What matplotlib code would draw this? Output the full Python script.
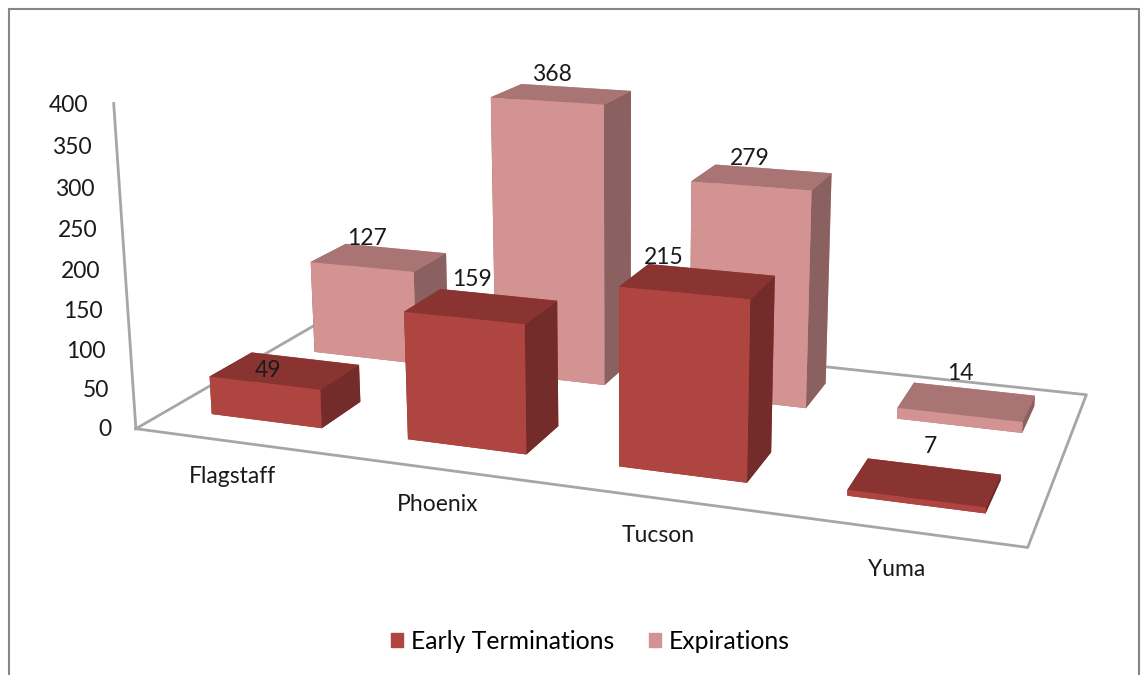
import numpy as np
import matplotlib
matplotlib.use('Agg')
import matplotlib.pyplot as plt
from matplotlib.patches import Patch, Rectangle
from mpl_toolkits.mplot3d import proj3d

plt.rcParams['font.family'] = ['Lato', 'DejaVu Sans']

cities = ['Flagstaff', 'Phoenix', 'Tucson', 'Yuma']
early = [49, 159, 215, 7]
expirations = [127, 368, 279, 14]
yticks = [0, 50, 100, 150, 200, 250, 300, 350, 400]

# front, top, side colours for each series
early_cols = ['#AE4540', '#8A3431', '#742C2A']
exp_cols = ['#D39392', '#A97574', '#8A6060']

# label nudges from the centre of each bar top (x units, value units)
early_nudge = [(-0.09, -3), (-0.045, 32), (-0.15, 24), (0.015, 43)]
exp_nudge = [(-0.065, 25), (-0.05, 24), (-0.06, 23), (-0.035, 36)]

bar_w = 0.57
bar_d = 0.4
txt = '#1A1A1A'


def label3d(ax, x, y, z, s, **kw):
    # plain 2d text at the projected spot, so its box is where it is drawn
    px, py, _ = proj3d.proj_transform(x, y, z, ax.get_proj())
    ax.text2D(px, py, s, transform=ax.transData, va='center', fontsize=16.5, color=txt,
              zorder=100, **kw)


def draw_series(ax, values, row, cols, nudge, z):
    for i, v in enumerate(values):
        # bottom, top, -y, +y, -x, +x
        fc = [cols[1], cols[1], cols[0], cols[0], cols[2], cols[2]]
        x0 = i + 0.505
        ax.bar3d(x0 - bar_w / 2, row - bar_d / 2, 0, bar_w, bar_d, v,
                 color=fc, shade=False, zorder=z + i)
        label3d(ax, x0 + nudge[i][0], row, v + nudge[i][1], str(v), ha='center')


W = 1147
H = 675
fig = plt.figure(figsize=(W / 100, H / 100), dpi=100)
# 3d axes stay square, so make it as wide as the figure and let it hang over
ax = fig.add_axes([34 / W, -170 / H, 1, W / H], projection='3d', computed_zorder=False)
ax.set_proj_type('persp', focal_length=0.316)
ax.view_init(elev=15, azim=-70.5)
ax.set_box_aspect((1.42, 0.68, 0.53), zoom=0.8716)
ax.set_xlim(0, 4)
ax.set_ylim(0, 2)
ax.set_zlim(0, 400)
ax.set_xticks([])
ax.set_yticks([])
ax.set_zticks([])
ax.set_axis_off()

# floor and wall axis
floor = '#A6A6A6'
ax.plot([0, 4, 4, 0, 0], [0, 0, 2, 2, 0], [0, 0, 0, 0, 0], color=floor, lw=2, zorder=1)
ax.plot([0, 0], [0, 0], [0, 400], color=floor, lw=2, zorder=1)

for t in yticks:
    label3d(ax, -0.13, 0, t - 5, str(t), ha='right')
for i, c in enumerate(cities):
    label3d(ax, 0.95 * i + 0.715, -0.385, 0, c, ha='center')

draw_series(ax, expirations, 1.54, exp_cols, exp_nudge, 10)
draw_series(ax, early, 0.5, early_cols, early_nudge, 30)

fig.legend(handles=[Patch(color=early_cols[0], label='Early Terminations'),
                    Patch(color=exp_cols[0], label='Expirations')],
           loc='center', bbox_to_anchor=(0.5148, 0.05), ncol=2, frameon=False,
           fontsize=17.8, handlelength=0.49, handleheight=0.49, columnspacing=1.42, handletextpad=0.32)

fig.add_artist(Rectangle((8.5 / W, -0.01), 1130 / W, 1 - 8.5 / H + 0.01, fill=False, ec='#868686', lw=1.5,
                         transform=fig.transFigure))
fig.savefig('out.png', dpi=100)
